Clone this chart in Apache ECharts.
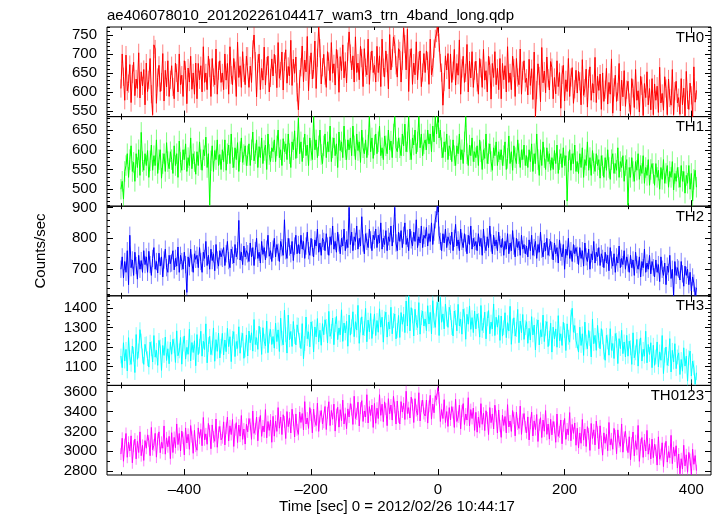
<!DOCTYPE html>
<html><head><meta charset="utf-8">
<script src="https://cdn.jsdelivr.net/npm/echarts@6/dist/echarts.min.js"></script>
<style>html,body{margin:0;padding:0;background:#fff}#c{width:717px;height:516px}</style>
</head><body><div id="c"></div>
<script>
// ---------------- data ----------------
const TIME_START = -500, TIME_STEP = 2;   // first bin and bin width (sec)
const th0 = [
609,700,640,578,697,603,622,672,572,647,678,590,634,609,703,584,653,616,659,566,
676,601,632,688,594,540,724,713,570,638,670,601,626,701,576,657,613,682,588,632,
669,613,582,676,650,600,700,619,644,588,682,657,569,663,626,694,607,650,594,676,
582,675,632,669,600,719,625,650,606,694,663,588,688,638,619,713,594,656,682,625,
650,606,700,631,675,594,719,644,619,688,656,588,731,638,669,612,706,650,619,694,
694,612,668,625,712,750,681,587,675,700,606,662,631,718,618,668,694,600,637,687,
642,699,673,611,730,636,655,705,605,680,711,623,667,642,736,617,686,649,692,599,
553,634,665,721,627,684,653,746,603,671,703,634,659,734,609,690,771,715,621,665,
699,643,612,706,680,630,730,649,674,618,712,687,599,693,656,724,637,680,624,706,
758,701,658,695,626,745,651,676,632,720,689,614,714,664,645,739,620,682,708,651,
670,626,720,651,695,614,739,664,639,708,676,608,751,658,689,745,726,670,639,714,
708,626,682,768,726,658,765,601,689,714,620,676,645,732,632,682,708,614,651,701,
651,708,682,620,739,645,664,714,740,755,771,730,676,651,565,626,695,658,701,608,
700,625,656,712,618,675,644,737,594,662,694,625,650,725,600,681,637,706,612,656,
681,625,594,688,662,612,712,631,656,600,694,669,581,675,638,706,619,662,606,688,
582,675,632,669,600,719,625,650,606,694,663,588,688,638,619,713,594,656,682,625,
636,592,686,617,661,580,705,535,605,674,642,574,717,624,655,598,692,636,605,680,
664,582,638,595,682,614,651,557,645,670,576,632,601,688,588,638,664,570,607,657,
597,654,628,566,685,591,610,660,560,635,666,578,622,597,691,572,641,604,647,554,
650,575,606,662,568,625,594,687,544,612,644,575,600,675,550,631,587,656,562,606,
628,572,541,635,609,559,659,578,603,547,641,616,538,622,585,653,566,609,553,635,
540,621,578,615,546,665,571,596,552,640,609,540,634,584,565,659,540,602,628,571,
585,541,635,566,610,537,654,579,554,623,591,535,666,573,604];
const th1 = [
500,520,475,545,560,590,530,575,610,545,568,520,590,555,600,535,644,570,548,590,
560,598,530,572,612,548,585,560,625,540,575,600,528,565,590,545,618,570,552,595,
575,540,610,560,590,530,622,568,548,600,575,615,545,580,560,630,552,590,570,538,
595,560,620,575,548,600,585,632,555,590,460,572,610,545,598,575,625,560,588,550,
600,570,625,548,590,612,565,640,580,555,605,575,618,545,595,630,568,588,610,560,
585,615,560,600,645,572,590,625,555,608,580,630,565,598,612,550,640,588,570,605,
595,625,570,610,650,580,600,560,628,595,615,575,640,590,555,620,600,648,578,605,
680,590,620,570,605,640,585,612,560,630,598,575,684,600,625,580,610,650,588,565,
610,640,580,620,595,660,570,605,630,585,615,555,645,598,620,580,660,600,575,625,
600,630,585,660,610,575,640,598,620,568,650,605,590,625,580,612,684,595,630,578,
612,640,590,620,660,585,605,575,635,610,590,650,600,622,580,640,684,605,595,630,
605,585,640,610,665,595,620,684,600,575,630,612,650,590,620,684,605,640,585,615,
625,600,650,615,640,595,660,620,684,640,684,630,650,605,580,620,595,640,575,610,
600,570,625,585,560,610,590,640,575,600,565,620,684,590,560,612,585,630,570,595,
580,610,560,625,595,550,600,578,640,565,590,615,570,548,605,585,620,560,595,575,
600,560,585,620,550,578,635,565,595,548,610,580,565,625,590,555,600,575,612,560,
585,555,600,570,615,545,590,565,640,575,535,600,560,620,580,550,605,570,590,548,
580,550,598,565,612,540,575,590,555,605,560,585,470,570,600,548,590,565,612,545,
570,540,590,555,605,530,575,560,620,548,580,535,598,565,545,590,560,575,528,585,
560,530,580,548,600,555,525,575,590,540,565,548,605,530,570,555,585,520,560,575,
460,555,530,580,545,520,570,548,590,525,560,540,585,515,555,535,575,510,550,565,
540,510,565,530,548,500,555,525,575,515,540,560,505,545,530,570,498,540,520,555,
530,505,560,520,545,490,535,515,560,500,540,470,525,548,505];
const th2 = [
700,740,672,725,690,760,650,810,705,730,680,755,712,668,745,700,728,690,760,715,
740,690,758,715,680,735,770,700,725,688,752,710,740,675,730,765,705,690,745,718,
720,760,698,735,710,772,690,745,725,700,755,715,625,740,708,765,720,690,750,732,
745,705,770,725,690,755,735,790,712,745,700,765,728,750,695,780,730,710,760,740,
735,770,712,750,790,728,705,765,745,720,780,740,760,858,730,755,715,775,740,760,
750,725,785,740,770,712,760,800,735,755,720,790,748,770,730,765,810,742,760,725,
765,800,740,780,755,725,790,770,745,860,760,735,800,772,750,790,728,775,810,750,
780,750,810,765,790,735,775,820,760,745,800,770,740,795,775,830,755,785,745,800,
790,760,815,775,745,805,780,840,765,790,755,820,785,750,800,775,830,760,795,770,
900,780,820,760,805,790,840,765,800,775,870,785,750,815,790,770,830,795,760,810,
795,830,770,810,785,850,765,800,780,825,760,805,790,840,775,815,900,785,760,820,
790,825,770,810,850,780,800,760,830,795,775,820,790,860,770,805,785,840,770,810,
800,835,775,815,790,850,780,820,860,880,904,810,790,760,815,785,830,770,805,790,
780,820,760,800,845,775,795,760,830,790,770,815,785,750,810,780,840,765,800,775,
790,760,815,775,800,745,830,780,760,805,770,840,785,750,810,775,795,760,820,780,
770,800,745,790,765,815,750,785,760,825,775,740,800,770,790,745,810,765,780,750,
775,740,795,760,810,745,770,790,735,780,755,820,765,740,785,760,800,745,770,790,
760,730,785,750,770,720,795,755,740,780,700,765,745,800,735,760,725,780,750,770,
745,715,770,735,760,710,785,740,725,765,700,750,730,790,720,755,740,770,712,750,
735,705,755,720,745,695,770,730,710,750,690,740,720,775,705,735,715,760,700,740,
720,690,745,705,730,680,755,715,700,740,675,725,705,765,690,720,700,745,685,725,
705,675,730,690,715,660,740,700,680,720,650,710,690,745,670,700,615,725,680,705,
700,665,725,685,645,710,680,700,650,690,630,675,655,615,640];
const th3 = [
1155,1095,1223,1129,1189,1078,1249,1146,1112,1206,1164,1070,1265,1138,1181,1290,1232,1155,1112,1215,
1218,1141,1098,1226,1192,1124,1260,1149,1184,1107,1235,1201,1081,1209,1158,1252,1132,1192,1115,1226,
1164,1241,1207,1122,1284,1156,1181,1250,1113,1216,1258,1139,1199,1164,1292,1130,1224,1173,1233,1105,
1265,1162,1205,1282,1154,1231,1188,1320,1120,1214,1256,1162,1196,1299,1128,1239,1179,1273,1145,1205,
1271,1160,1237,1177,1297,1203,1254,1126,1246,1280,1152,1229,1194,1305,1169,1237,1271,1143,1186,1263,
1155,1283,1223,1274,1180,1342,1214,1249,1189,1308,1266,1163,1300,1231,1206,1334,1172,1257,1291,1214,
1255,1195,1323,1229,1289,1178,1349,1246,1212,1390,1264,1170,1365,1238,1281,1204,1332,1255,1212,1315,
1313,1236,1193,1321,1140,1219,1355,1244,1279,1202,1330,1296,1176,1304,1253,1347,1227,1287,1210,1321,
1264,1341,1307,1222,1384,1256,1281,1350,1213,1316,1358,1239,1299,1264,1392,1230,1324,1273,1333,1205,
1365,1262,1305,1382,1254,1331,1288,1415,1220,1314,1356,1262,1296,1399,1228,1339,1279,1373,1245,1305,
1371,1260,1337,1277,1397,1303,1354,1226,1346,1380,1252,1329,1294,1405,1269,1337,1371,1243,1286,1363,
1250,1378,1318,1369,1275,1437,1309,1464,1284,1403,1361,1258,1395,1326,1301,1429,1267,1352,1386,1309,
1345,1285,1413,1319,1379,1268,1439,1336,1302,1396,1430,1260,1455,1328,1371,1294,1422,1345,1302,1405,
1378,1301,1258,1386,1352,1284,1420,1309,1344,1267,1395,1361,1241,1369,1318,1412,1292,1352,1275,1386,
1294,1371,1337,1252,1414,1286,1311,1380,1243,1346,1388,1269,1329,1294,1422,1260,1354,1303,1363,1235,
1360,1257,1300,1377,1249,1326,1283,1410,1215,1309,1351,1257,1291,1394,1223,1334,1274,1368,1240,1300,
1331,1220,1297,1237,1357,1263,1314,1186,1306,1340,1212,1289,1254,1365,1229,1297,1331,1203,1246,1323,
1175,1303,1243,1294,1200,1362,1234,1269,1209,1328,1286,1183,1320,1251,1226,1354,1400,1277,1311,1234,
1235,1175,1303,1209,1269,1158,1329,1226,1192,1286,1244,1150,1345,1218,1261,1184,1312,1235,1192,1295,
1253,1176,1133,1261,1227,1159,1295,1184,1219,1142,1270,1236,1116,1244,1193,1287,1167,1227,1150,1261,
1154,1231,1197,1112,1274,1146,1171,1240,1103,1206,1248,1129,1189,1154,1282,1120,1214,1163,1223,1095,
1210,1107,1150,1227,1099,1176,1133,1260,1065,1159,1201,1107,1141,1244,1073,1184,1124,1218,1090,1150,
1171,1060,1137,1077,1197,1103,1154,1026,1146,1180,1052,1129,1094,1010,1069];
const th0123 = [
2971,3131,2899,3067,3179,2939,3091,3003,3155,2883,3051,3123,2923,3099,2987,3195,2955,3059,2907,3107,
3030,3165,3105,2955,3240,3015,3060,3180,2940,3120,3195,2985,3090,3030,3255,2970,3135,3045,3150,2925,
3187,2987,3139,3035,3275,3067,3179,3003,3203,3131,2963,3235,3083,3171,3019,3259,3147,2979,3211,3051,
3010,3235,3130,3220,3055,3340,3115,3175,3070,3280,3205,3025,3265,3145,3100,3325,3040,3190,3250,3115,
3136,3296,3064,3232,3344,3104,3256,3168,3320,3048,3216,3288,3088,3264,3152,3360,3120,3224,3072,3272,
3195,3330,3270,3120,3405,3180,3225,3345,3105,3285,3360,3150,3255,3195,3420,3135,3300,3210,3315,3090,
3352,3152,3304,3200,3440,3232,3344,3168,3368,3296,3128,3400,3248,3336,3184,3424,3312,3144,3376,3216,
3170,3395,3290,3380,3215,3500,3275,3335,3230,3440,3365,3185,3425,3305,3260,3485,3200,3350,3410,3275,
3291,3451,3219,3387,3499,3259,3411,3323,3475,3203,3371,3443,3243,3419,3307,3515,3275,3379,3227,3427,
3345,3480,3420,3270,3555,3330,3375,3495,3255,3435,3510,3300,3405,3345,3570,3285,3450,3360,3465,3240,
3482,3282,3434,3330,3570,3362,3474,3298,3498,3426,3258,3530,3378,3466,3314,3554,3442,3274,3506,3346,
3275,3500,3395,3485,3320,3605,3380,3440,3335,3545,3470,3290,3530,3410,3365,3590,3305,3455,3515,3380,
3356,3516,3284,3452,3564,3324,3476,3388,3560,3520,3640,3540,3300,3420,3330,3520,3290,3400,3250,3440,
3315,3450,3390,3240,3525,3300,3345,3465,3225,3405,3480,3270,3375,3315,3540,3255,3420,3330,3435,3210,
3392,3192,3344,3240,3480,3272,3384,3208,3408,3336,3168,3440,3288,3376,3224,3464,3352,3184,3416,3256,
3140,3365,3260,3350,3185,3470,3245,3305,3200,3410,3335,3155,3395,3275,3230,3455,3170,3320,3380,3245,
3186,3346,3114,3282,3394,3154,3306,3218,3370,3098,3266,3338,3138,3314,3202,3410,3170,3274,3122,3322,
3165,3300,3240,3090,3375,3150,3195,3315,3075,3255,3330,3120,3225,3165,3390,3105,3270,3180,3285,3060,
3232,3032,3184,3080,3320,3112,3224,3048,3248,3176,3008,3280,3128,3216,3064,3304,3192,3024,3256,3096,
2960,3185,3080,3170,3005,3290,3065,3125,3020,3230,3155,2975,3215,3095,3050,3275,2990,3140,3200,3065,
2986,3146,2914,3082,3194,2954,3106,3018,3260,2898,3066,3138,2938,3114,3002,3210,2970,3074,2922,3122,
2935,3070,3010,2860,3145,2920,2965,3085,2845,3025,3100,2890,2995,2935,3160,2875,3040,2950,3055,2830,
2972,2772,2924,2820,3060,2852,2964,2788,2988,2916,2765,3020,2868,2956,2804];
const errors = [24, 26, 28, 38, 60];   // typical 1-sigma error bar per band
const panelNames = ['TH0', 'TH1', 'TH2', 'TH3', 'TH0123'];
const yMin = [535, 457, 614, 1004, 2760];
const yMax = [771, 684, 904, 1464, 3664];
const yMajorTicks = [[550,600,650,700,750],[500,550,600,650],[700,800,900],[1100,1200,1300,1400],[2800,3000,3200,3400,3600]];
const yMinorStep = [10, 10, 20, 20, 100];
const xMin = -522, xMax = 431;
const xMajorTicks = [-400, -200, 0, 200, 400];
const xMinorTicks = [-500, -300, -100, 100, 300];
const titleText = 'ae406078010_20120226104417_wam3_trn_4band_long.qdp';
const xTitle = 'Time [sec] 0 = 2012/02/26 10:44:17';
const yTitle = 'Counts/sec';

// ---------------- chart ----------------
const seriesValues = [th0, th1, th2, th3, th0123];
const colors = ['#ff0000', '#00ff00', '#0000ff', '#00ffff', '#ff00ff'];
const FONT = '"Liberation Sans", Arial, Helvetica, sans-serif';
const L = 107, R = 711, T = 27, B = 475;
const H = (B - T) / 5;
const fmtX = v => (v < 0 ? '\u2013' + (-v) : String(v));
const fmtY = v => String(v);

const grid = [], xAxis = [], yAxis = [], series = [];
const graphic = [];
for (let i = 0; i < 5; i++) {
  grid.push({left: L, top: T + i * H, width: R - L, height: H, show: true,
    borderColor: '#000', borderWidth: 1, backgroundColor: 'transparent'});
  const minor = [];
  const maj = yMajorTicks[i];
  for (let v = Math.ceil(yMin[i] / yMinorStep[i]) * yMinorStep[i]; v <= yMax[i]; v += yMinorStep[i]) {
    if (maj.indexOf(v) < 0) minor.push(v);
  }
  const tickStyle = {color: '#000', width: 1};
  const noLine = {show: false, onZero: false};
  const xb = {type: 'value', gridIndex: i, min: xMin, max: xMax, axisLine: noLine, splitLine: {show: false}};
  xAxis.push(Object.assign({}, xb, {position: 'bottom',
    axisTick: {show: true, inside: true, length: 6, lineStyle: tickStyle, customValues: xMajorTicks},
    axisLabel: {show: i === 4, customValues: xMajorTicks, formatter: fmtX, fontFamily: FONT, fontSize: 15, color: '#000', margin: 7}}));
  xAxis.push(Object.assign({}, xb, {position: 'bottom',
    axisTick: {show: true, inside: true, length: 3, lineStyle: tickStyle, customValues: xMinorTicks},
    axisLabel: {show: false}}));
  xAxis.push(Object.assign({}, xb, {position: 'top',
    axisTick: {show: true, inside: true, length: 6, lineStyle: tickStyle, customValues: xMajorTicks},
    axisLabel: {show: false}}));
  xAxis.push(Object.assign({}, xb, {position: 'top',
    axisTick: {show: true, inside: true, length: 3, lineStyle: tickStyle, customValues: xMinorTicks},
    axisLabel: {show: false}}));
  const yb = {type: 'value', gridIndex: i, min: yMin[i], max: yMax[i], axisLine: noLine, splitLine: {show: false}};
  yAxis.push(Object.assign({}, yb, {position: 'left',
    axisTick: {show: true, inside: true, length: 6, lineStyle: tickStyle, customValues: maj},
    axisLabel: {show: true, customValues: maj, formatter: fmtY, fontFamily: FONT, fontSize: 15, color: '#000', margin: 10}}));
  yAxis.push(Object.assign({}, yb, {position: 'left',
    axisTick: {show: true, inside: true, length: 3, lineStyle: tickStyle, customValues: minor},
    axisLabel: {show: false}}));
  yAxis.push(Object.assign({}, yb, {position: 'right',
    axisTick: {show: true, inside: true, length: 6, lineStyle: tickStyle, customValues: maj},
    axisLabel: {show: false}}));
  yAxis.push(Object.assign({}, yb, {position: 'right',
    axisTick: {show: true, inside: true, length: 3, lineStyle: tickStyle, customValues: minor},
    axisLabel: {show: false}}));

  const vals = seriesValues[i];
  const pts = vals.map((v, k) => [TIME_START + k * TIME_STEP, v]);
  const col = colors[i];
  const err = errors[i];
  series.push({type: 'custom', xAxisIndex: i * 4, yAxisIndex: i * 4, silent: true, animation: false, clip: true,
    data: pts.map(p => [p[0], p[1], err]), encode: {x: 0, y: 1},
    renderItem: (params, api) => {
      const x = api.value(0), y = api.value(1), e = api.value(2);
      const a = api.coord([x, y - e]), b = api.coord([x, y + e]);
      return {type: 'line', shape: {x1: a[0], y1: a[1], x2: b[0], y2: b[1]},
        style: {stroke: col, opacity: 0.5, lineWidth: 1}};
    }});
  series.push({type: 'line', xAxisIndex: i * 4, yAxisIndex: i * 4, data: pts, showSymbol: false,
    silent: true, animation: false, clip: true, lineStyle: {color: col, width: 1}});

  graphic.push({type: 'text', style: {x: 704, y: T + i * H + 10.5, text: panelNames[i],
    font: '15px ' + FONT, fill: '#000', textAlign: 'right', textVerticalAlign: 'middle'}});
}
graphic.push({type: 'text', style: {x: 107, y: 15.5, text: titleText, font: '15px ' + FONT, fill: '#000',
  textAlign: 'left', textVerticalAlign: 'middle'}});
graphic.push({type: 'text', style: {x: 397, y: 507, text: xTitle, font: '15px ' + FONT, fill: '#000',
  textAlign: 'center', textVerticalAlign: 'middle'}});
graphic.push({type: 'text', rotation: Math.PI / 2, x: 41, y: 251, style: {x: 0, y: 0, text: yTitle,
  font: '15px ' + FONT, fill: '#000', textAlign: 'center', textVerticalAlign: 'middle'}});

const chart = echarts.init(document.getElementById('c'), null, {renderer: 'canvas'});
chart.setOption({animation: false, backgroundColor: '#fff', grid, xAxis, yAxis, series, graphic});
</script></body></html>
